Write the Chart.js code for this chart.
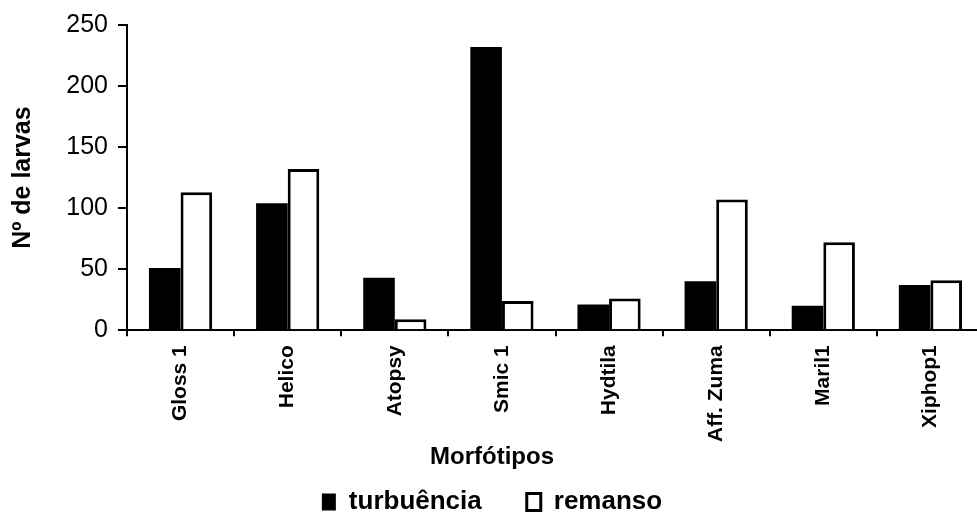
<!DOCTYPE html>
<html lang="pt">
<head>
  <meta charset="UTF-8">
  <title>Nº de larvas por morfótipo</title>
  <script src="https://cdn.jsdelivr.net/npm/chart.js"></script>
  <style>
    html, body { margin: 0; padding: 0; background: #fff; overflow: hidden; }
    canvas { display: block; }
  </style>
</head>
<body>
  <canvas id="myChart" width="990" height="525"></canvas>

  <script>
    // dados
    const morfotipos = ['Gloss 1', 'Helico', 'Atopsy', 'Smic 1', 'Hydtila', 'Aff. Zuma', 'Maril1', 'Xiphop1'];
    const turbulencia = [51, 104, 43, 232, 21, 40, 20, 37];
    const remanso = [113, 132, 9, 24, 26, 107, 72, 41];
    const yTicks = [0, 50, 100, 150, 200, 250];

    const fonte = "'Liberation Sans', Arial, sans-serif";
    Chart.defaults.color = '#000';
    Chart.defaults.font.family = fonte;

    const ctx = document.getElementById('myChart').getContext('2d');

    new Chart(ctx, {
      type: 'bar',
      data: {
        labels: morfotipos,
        datasets: [{
          label: 'turbuência',
          data: turbulencia,
          backgroundColor: '#000',
          borderColor: '#000',
          borderWidth: 0
        }, {
          label: 'remanso',
          data: remanso,
          backgroundColor: '#fff',
          borderColor: '#000',
          borderWidth: 3
        }]
      },
      options: {
        responsive: false,
        animation: false,
        layout: { padding: { top: 24, right: 6, left: 0, bottom: 0 } },
        datasets: {
          bar: { categoryPercentage: 0.59, barPercentage: 1.0 }
        },
        plugins: {
          tooltip: { enabled: false },
          legend: {
            position: 'bottom',
            labels: {
              boxWidth: 14,
              boxHeight: 17,
              padding: 45,
              font: { size: 26, weight: 'bold' }
            },
            // título do eixo x como título da legenda, centrado na figura
            title: {
              display: true,
              text: 'Morfótipos',
              font: { size: 24, weight: 'bold' },
              padding: { top: 0, bottom: -30 }
            }
          }
        },
        scales: {
          x: {
            afterFit: s => { s.height = 115; },
            border: { color: '#000', width: 2 },
            grid: {
              offset: true,
              drawOnChartArea: false,
              drawTicks: true,
              tickLength: 6,
              color: '#000',
              lineWidth: 2
            },
            ticks: {
              minRotation: 90,
              maxRotation: 90,
              padding: 9,
              font: { size: 21, weight: 'bold' }
            }
          },
          y: {
            min: 0,
            max: 250,
            afterFit: s => { s.width = 127; },
            afterBuildTicks: s => { s.ticks = yTicks.map(v => ({ value: v })); },
            border: { color: '#000', width: 2 },
            grid: {
              drawOnChartArea: false,
              drawTicks: true,
              tickLength: 9,
              color: '#000',
              lineWidth: 2
            },
            ticks: {
              padding: 10,
              font: { size: 25 }
            },
            title: {
              display: true,
              text: 'Nº de larvas',
              font: { size: 25, weight: 'bold' },
              padding: { top: 8, bottom: 0 }
            }
          }
        }
      }
    });
  </script>
</body>
</html>
